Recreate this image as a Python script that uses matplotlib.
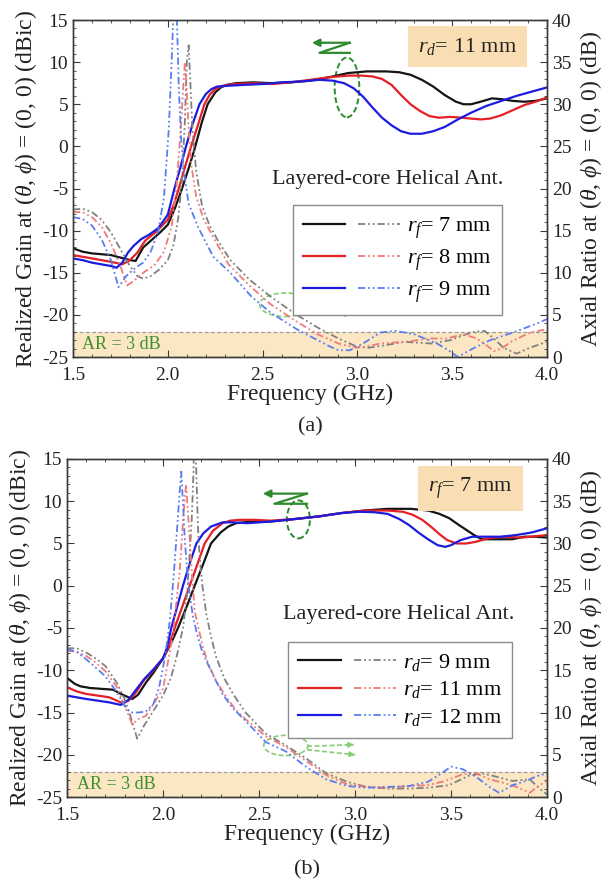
import matplotlib
matplotlib.use("Agg")
import matplotlib.pyplot as plt
from matplotlib.patches import Ellipse
from matplotlib.legend_handler import HandlerTuple
from matplotlib.lines import Line2D
from matplotlib.ticker import MultipleLocator

# ---------------------------------------------------------------- data
# (a) r_d = 11 mm, feed radius r_f varied
freq_a_gain_rf7 = [1.50, 1.55, 1.60, 1.65, 1.70, 1.75, 1.80, 1.83, 1.87, 1.92, 1.96, 2.00, 2.04, 2.075,
                   2.11, 2.14, 2.18, 2.21, 2.25, 2.28, 2.31, 2.36, 2.45, 2.55, 2.65, 2.75, 2.85, 2.95,
                   3.05, 3.15, 3.22, 3.28, 3.34, 3.40, 3.46, 3.52, 3.56, 3.60, 3.65, 3.71, 3.76, 3.82,
                   3.88, 3.94, 4.00]
gain_a_rf7 = [-12.1, -12.5, -12.7, -12.8, -12.9, -13.2, -13.5, -13.6, -12.0, -11.0, -10.2, -9.3, -7.2, -5.0,
              -2.6, -0.4, 2.9, 5.0, 6.4, 7.0, 7.3, 7.5, 7.6, 7.5, 7.6, 7.8, 8.2, 8.7,
              8.9, 8.9, 8.8, 8.5, 7.9, 7.1, 6.1, 5.3, 5.0, 5.0, 5.3, 5.7, 5.6, 5.4,
              5.3, 5.4, 5.7]

freq_a_gain_rf8 = [1.50, 1.55, 1.60, 1.65, 1.70, 1.76, 1.80, 1.84, 1.88, 1.94, 2.00, 2.03, 2.058, 2.09,
                   2.123, 2.16, 2.193, 2.22, 2.25, 2.29, 2.35, 2.45, 2.55, 2.65, 2.75, 2.85, 2.95, 3.02,
                   3.08, 3.13, 3.18, 3.23, 3.28, 3.33, 3.38, 3.43, 3.49, 3.55, 3.60, 3.65, 3.70, 3.76,
                   3.82, 3.88, 3.94, 4.00]
gain_a_rf8 = [-12.9, -13.1, -13.3, -13.5, -13.7, -14.0, -13.5, -12.6, -11.2, -10.1, -8.7, -7.0, -5.0, -2.5,
              0.0, 2.6, 5.0, 6.1, 6.8, 7.2, 7.4, 7.5, 7.4, 7.6, 7.9, 8.2, 8.4, 8.4,
              8.3, 8.0, 7.3, 6.1, 5.0, 4.2, 3.6, 3.4, 3.5, 3.4, 3.3, 3.2, 3.3, 3.7,
              4.3, 4.9, 5.3, 5.8]

freq_a_gain_rf9 = [1.50, 1.55, 1.60, 1.65, 1.70, 1.73, 1.76, 1.79, 1.82, 1.86, 1.90, 1.95, 2.00, 2.035,
                   2.065, 2.096, 2.13, 2.167, 2.20, 2.23, 2.26, 2.32, 2.40, 2.50, 2.60, 2.70, 2.80, 2.87,
                   2.93, 2.98, 3.03, 3.08, 3.13, 3.18, 3.23, 3.28, 3.34, 3.40, 3.46, 3.53, 3.60, 3.68,
                   3.76, 3.84, 3.92, 4.00]
gain_a_rf9 = [-13.3, -13.5, -13.8, -14.0, -14.2, -14.4, -13.8, -12.6, -11.8, -11.0, -10.5, -9.7, -8.1, -5.0,
              -2.6, 0.0, 2.6, 5.0, 6.2, 6.8, 7.1, 7.2, 7.3, 7.4, 7.6, 7.7, 7.9, 7.8,
              7.5, 6.9, 5.9, 4.6, 3.4, 2.5, 1.8, 1.5, 1.5, 1.8, 2.3, 3.2, 4.0, 4.8,
              5.4, 6.0, 6.5, 7.0]

freq_a_ar_rf7 = [1.50, 1.55, 1.60, 1.65, 1.70, 1.75, 1.80, 1.84, 1.87, 1.91, 1.95, 2.00, 2.03, 2.055,
                 2.075, 2.09, 2.10, 2.11, 2.12, 2.13, 2.15, 2.18, 2.22, 2.27, 2.33, 2.43, 2.54, 2.68,
                 2.79, 2.90, 3.00, 3.06, 3.12, 3.25, 3.39, 3.49, 3.56, 3.62, 3.67, 3.72, 3.77, 3.84,
                 3.91, 4.00]
ar_a_rf7 = [17.5, 17.6, 17.2, 16.3, 14.8, 12.8, 10.8, 9.6, 9.3, 9.6, 10.3, 11.5, 13.3, 16.5,
            21.0, 28.0, 35.0, 37.0, 32.0, 27.0, 22.0, 18.0, 15.6, 13.6, 11.5, 9.2, 7.2, 5.0,
            3.5, 2.2, 1.2, 1.1, 1.3, 1.8, 1.6, 2.0, 2.6, 3.0, 3.1, 2.2, 1.1, 0.4,
            1.1, 1.8]

freq_a_ar_rf8 = [1.50, 1.55, 1.60, 1.65, 1.70, 1.75, 1.785, 1.82, 1.87, 1.93, 1.98, 2.02, 2.045, 2.065,
                 2.08, 2.09, 2.10, 2.11, 2.125, 2.15, 2.19, 2.25, 2.32, 2.43, 2.54, 2.68, 2.79, 2.90,
                 3.00, 3.06, 3.12, 3.25, 3.39, 3.47, 3.56, 3.63, 3.68, 3.72, 3.76, 3.81, 3.91, 4.00]
ar_a_rf8 = [17.2, 17.2, 16.6, 15.5, 13.5, 10.8, 8.5, 9.0, 10.0, 10.9, 12.5, 15.5, 20.0, 26.0,
            31.5, 35.0, 31.5, 27.0, 22.6, 19.0, 16.3, 13.8, 11.0, 8.5, 6.3, 4.2, 2.7, 1.6,
            1.1, 1.3, 1.6, 1.8, 2.2, 2.2, 2.7, 2.2, 1.4, 0.7, 1.0, 1.8, 2.9, 3.3]

freq_a_ar_rf9 = [1.50, 1.55, 1.60, 1.65, 1.70, 1.74, 1.78, 1.83, 1.87, 1.91, 1.95, 1.98, 2.005, 2.02,
                 2.032, 2.04, 2.048, 2.058, 2.07, 2.085, 2.11, 2.16, 2.24, 2.33, 2.44, 2.54, 2.68, 2.79,
                 2.85, 2.90, 2.96, 3.03, 3.12, 3.20, 3.30, 3.42, 3.48, 3.53, 3.60, 3.70, 3.82, 3.95,
                 4.00]
ar_a_rf9 = [16.6, 16.4, 15.6, 14.0, 11.5, 8.3, 9.6, 10.6, 11.2, 12.5, 15.0, 19.0, 27.0, 35.0,
            42.0, 45.0, 40.0, 32.0, 26.0, 22.0, 18.2, 15.4, 11.9, 10.0, 7.2, 5.3, 3.3, 2.0,
            1.3, 0.8, 0.8, 1.6, 2.9, 3.1, 2.7, 1.6, 0.8, 0.0, 0.9, 2.0, 2.9, 4.0,
            4.5]

# (b) r_f = 7 mm, dielectric radius r_d varied
freq_b_gain_rd9 = [1.50, 1.54, 1.57, 1.62, 1.68, 1.74, 1.79, 1.84, 1.87, 1.91, 1.95, 2.00, 2.04, 2.078,
                   2.13, 2.165, 2.21, 2.25, 2.30, 2.34, 2.38, 2.46, 2.56, 2.69, 2.81, 2.93, 3.05, 3.17,
                   3.29, 3.38, 3.44, 3.49, 3.54, 3.58, 3.62, 3.66, 3.71, 3.76, 3.82, 3.88, 3.94, 4.00]
gain_b_rd9 = [-10.9, -11.6, -11.9, -12.1, -12.2, -12.3, -12.9, -13.4, -12.9, -11.5, -10.3, -8.6, -6.9, -5.0,
              -2.1, 0.0, 2.6, 5.0, 6.3, 7.0, 7.4, 7.6, 7.6, 7.9, 8.2, 8.6, 8.9, 9.1,
              9.1, 8.9, 8.5, 8.0, 7.2, 6.6, 6.0, 5.5, 5.5, 5.5, 5.5, 5.8, 5.8, 5.7]

freq_b_gain_rd11 = [1.50, 1.55, 1.60, 1.66, 1.72, 1.79, 1.82, 1.86, 1.90, 1.95, 2.00, 2.03, 2.061, 2.10,
                    2.139, 2.18, 2.217, 2.26, 2.31, 2.35, 2.40, 2.48, 2.56, 2.69, 2.81, 2.93, 3.05, 3.17,
                    3.25, 3.30, 3.35, 3.40, 3.44, 3.48, 3.53, 3.58, 3.63, 3.69, 3.77, 3.87, 4.00]
gain_b_rd11 = [-12.0, -12.5, -12.8, -13.0, -13.2, -13.9, -13.6, -12.6, -11.2, -10.0, -8.6, -7.2, -5.0, -2.5,
               0.0, 2.6, 5.0, 6.5, 7.4, 7.7, 7.8, 7.8, 7.7, 7.9, 8.2, 8.6, 8.9, 8.9,
               8.75, 8.4, 7.8, 6.9, 6.1, 5.4, 5.0, 5.0, 5.2, 5.6, 5.8, 5.7, 6.0]

freq_b_gain_rd12 = [1.50, 1.55, 1.60, 1.66, 1.72, 1.78, 1.82, 1.86, 1.90, 1.95, 2.00, 2.02, 2.043, 2.075,
                    2.104, 2.14, 2.174, 2.21, 2.25, 2.31, 2.36, 2.44, 2.56, 2.69, 2.81, 2.93, 3.02, 3.10,
                    3.17, 3.23, 3.28, 3.33, 3.38, 3.43, 3.47, 3.50, 3.55, 3.61, 3.68, 3.76, 3.84, 3.92,
                    4.00]
gain_b_rd12 = [-13.0, -13.2, -13.4, -13.6, -13.8, -14.1, -13.5, -12.3, -11.1, -9.9, -8.6, -7.4, -5.0, -2.4,
               0.0, 2.7, 5.0, 6.2, 7.0, 7.5, 7.5, 7.4, 7.6, 7.9, 8.2, 8.6, 8.75, 8.7,
               8.5, 7.9, 7.2, 6.3, 5.5, 4.8, 4.6, 4.8, 5.4, 5.8, 5.8, 5.8, 6.0, 6.3,
               6.8]

freq_b_ar_rd9 = [1.50, 1.55, 1.60, 1.65, 1.70, 1.76, 1.80, 1.83, 1.866, 1.90, 1.95, 2.00, 2.04, 2.07,
                 2.104, 2.125, 2.139, 2.15, 2.158, 2.166, 2.174, 2.182, 2.19, 2.205, 2.226, 2.25, 2.278, 2.32,
                 2.365, 2.43, 2.535, 2.64, 2.75, 2.85, 2.96, 3.06, 3.17, 3.28, 3.38, 3.49, 3.59, 3.66,
                 3.72, 3.82, 3.91, 3.96, 4.00]
ar_b_rd9 = [17.6, 17.6, 17.1, 16.4, 15.5, 13.5, 11.6, 9.6, 6.9, 8.4, 10.2, 12.0, 14.0, 16.5,
            20.0, 24.0, 28.7, 33.0, 38.0, 45.0, 38.0, 32.0, 28.7, 25.0, 21.6, 19.0, 16.5, 14.0,
            12.2, 10.0, 7.5, 6.1, 4.5, 2.8, 1.8, 1.2, 1.0, 1.0, 1.1, 1.4, 2.5, 2.8,
            2.5, 1.9, 2.1, 1.0, 0.3]

freq_b_ar_rd11 = [1.50, 1.55, 1.60, 1.65, 1.70, 1.76, 1.80, 1.84, 1.87, 1.91, 1.95, 2.00, 2.052, 2.087,
                  2.105, 2.12, 2.135, 2.15, 2.165, 2.19, 2.208, 2.24, 2.278, 2.33, 2.38, 2.43, 2.535, 2.64,
                  2.75, 2.85, 2.96, 3.06, 3.17, 3.28, 3.38, 3.47, 3.56, 3.63, 3.70, 3.77, 3.84, 3.91,
                  3.96, 4.00]
ar_b_rd11 = [17.3, 17.2, 16.7, 15.9, 14.9, 13.0, 10.8, 8.6, 9.2, 9.6, 11.0, 12.8, 19.2, 26.7,
             33.0, 37.0, 32.0, 26.7, 22.0, 19.5, 17.7, 15.5, 13.7, 11.8, 10.3, 9.2, 7.2, 5.9,
             4.2, 2.6, 1.5, 1.2, 1.1, 1.3, 1.4, 1.9, 2.7, 2.8, 2.1, 1.7, 1.2, 0.5,
             1.4, 1.9]

freq_b_ar_rd12 = [1.50, 1.55, 1.60, 1.65, 1.70, 1.76, 1.80, 1.83, 1.87, 1.91, 1.95, 1.98, 2.01, 2.035,
                  2.055, 2.07, 2.085, 2.095, 2.105, 2.113, 2.125, 2.139, 2.155, 2.174, 2.20, 2.226, 2.27, 2.31,
                  2.36, 2.43, 2.535, 2.64, 2.75, 2.85, 2.96, 3.06, 3.17, 3.28, 3.38, 3.45, 3.50, 3.56,
                  3.63, 3.70, 3.75, 3.82, 3.89, 3.95, 4.00]
ar_b_rd12 = [17.5, 17.2, 16.3, 15.3, 14.3, 12.4, 10.8, 10.0, 10.0, 10.1, 11.0, 13.0, 16.5, 20.8,
             26.0, 30.6, 35.5, 38.5, 34.5, 30.6, 27.0, 24.0, 21.5, 19.6, 17.5, 16.1, 14.0, 12.2,
             10.6, 9.0, 6.5, 5.4, 3.5, 2.1, 1.3, 1.1, 1.2, 1.3, 1.8, 2.8, 3.6, 3.3,
             2.4, 1.2, 0.5, 1.4, 1.9, 2.5, 2.8]

labels_a = [r"$r_f$= 7 mm", r"$r_f$= 8 mm", r"$r_f$= 9 mm"]
labels_b = [r"$r_d$= 9 mm", r"$r_d$= 11 mm", r"$r_d$= 12 mm"]
fixed_a = r"$r_d$= 11 mm"
fixed_b = r"$r_f$= 7 mm"
legend_title = "Layered-core Helical Ant."
AR_LIMIT = 3.0

# ---------------------------------------------------------------- style
plt.rcParams.update({
    "font.family": ["Liberation Serif", "DejaVu Serif"],
    "mathtext.fontset": "custom",
    "mathtext.rm": "Liberation Serif",
    "mathtext.it": "Liberation Serif:italic",
    "mathtext.bf": "Liberation Serif:bold",
    "axes.unicode_minus": False,
    "xtick.direction": "in",
    "ytick.direction": "in",
    "xtick.major.size": 5,
    "ytick.major.size": 5,
    "xtick.minor.size": 2.5,
    "ytick.minor.size": 2.5,
    "axes.linewidth": 1.0,
    "axes.edgecolor": "#3a3a3a",
})

SOLID = ["#151515", "#e41f26", "#1c1ce0"]
DASHC = ["#808080", "#f07a7a", "#5a7df0"]
DASH = (0, (4.0, 1.6, 1.0, 1.6, 1.0, 1.6))
GREEN_DARK = "#2d8a2d"
GREEN_LIGHT = "#86cc74"
BAND = "#fce7c4"
BOXC = "#f8deb2"

fig = plt.figure(figsize=(6.1, 8.85), dpi=100)


def panel(rect, gains, ars, labels, fixed, leg_anchor, title_xy, box_xy,
          zig, ell, ar_ell, ar_arrows, caption_y, caption):
    ax = fig.add_axes(rect)
    ax2 = ax.twinx()
    ax.set_xlim(1.5, 4.0)
    ax.set_ylim(-25, 15)
    ax2.set_ylim(0, 40)

    # AR <= 3 dB region
    ax.axhspan(-25, -25 + AR_LIMIT, color=BAND, lw=0, zorder=0)
    ax.axhline(-25 + AR_LIMIT, color="#9a9a9a", lw=0.9, ls=(0, (3, 2)), zorder=1)
    ax.text(1.55, -23.55, "AR = 3 dB", color="#3f8f2f", fontsize=13, va="center", ha="left")

    for (f, g), c in zip(gains, SOLID):
        ax.plot(f, g, color=c, lw=1.6, zorder=3, solid_capstyle="round")
    for (f, a), c in zip(ars, DASHC):
        ax2.plot(f, a, color=c, lw=1.3, ls=DASH, zorder=2)

    for a_ in (ax, ax2):
        a_.xaxis.set_major_locator(MultipleLocator(0.5))
        a_.xaxis.set_minor_locator(MultipleLocator(0.1))
    ax.yaxis.set_major_locator(MultipleLocator(5))
    ax.yaxis.set_minor_locator(MultipleLocator(1))
    ax2.yaxis.set_major_locator(MultipleLocator(5))
    ax2.yaxis.set_minor_locator(MultipleLocator(1))
    ax.xaxis.set_major_formatter(plt.FuncFormatter(lambda v, p: f"{v:.1f}"))
    ax.tick_params(which="both", top=True, right=False, labelsize=14, colors="#3a3a3a",
                   labelcolor="#222222")
    ax2.tick_params(which="both", labelsize=14, colors="#3a3a3a", labelcolor="#222222")
    ax.tick_params(axis="x", pad=7)

    ax.set_xlabel("Frequency (GHz)", fontsize=17, labelpad=0, color="#222222")
    ax.set_ylabel(r"Realized Gain at ($\theta$, $\phi$) = (0, 0) (dBic)", fontsize=17,
                  labelpad=2, color="#222222")
    ax2.set_ylabel(r"Axial Ratio at ($\theta$, $\phi$) = (0, 0) (dB)", fontsize=17,
                   labelpad=5, color="#222222")

    # legend: solid (gain) + dash-dot-dot (AR) handles side by side
    handles = [(Line2D([], [], color=s, lw=1.6), Line2D([], [], color=d, lw=1.3, ls=DASH))
               for s, d in zip(SOLID, DASHC)]
    leg = ax2.legend(handles, labels, handler_map={tuple: HandlerTuple(ndivide=None, pad=0.6)},
                     loc="upper left", bbox_to_anchor=leg_anchor, fontsize=16,
                     handlelength=4.4, handletextpad=0.3, labelspacing=0.3, borderpad=0.45,
                     frameon=True, fancybox=False, framealpha=1)
    leg.get_frame().set_edgecolor("#8c8c8c")
    leg.get_frame().set_linewidth(1.0)
    ax.text(title_xy[0], title_xy[1], legend_title, fontsize=16, ha="center", va="center",
            color="#222222")

    ax.text(box_xy[0], box_xy[1], fixed, fontsize=16, ha="center", va="center", color="#222222",
            bbox=dict(boxstyle="square,pad=0.45", fc=BOXC, ec="none"))

    # gain marker: Z with arrow to the left axis + dashed ellipse
    (x0, x1, x2, y_top, y_bot) = zig
    ax.annotate("", xy=(x0, y_top), xytext=(x2, y_top),
                arrowprops=dict(arrowstyle="-|>", color=GREEN_DARK, lw=1.6, mutation_scale=11,
                                shrinkA=0, shrinkB=0))
    ax.plot([x2, x1, x2], [y_top, y_bot, y_bot], color=GREEN_DARK, lw=1.6)
    ax.add_patch(Ellipse(ell[:2], ell[2], ell[3], fill=False, ec=GREEN_DARK, lw=1.4,
                         ls=(0, (3, 1.5))))

    # AR marker: dashed ellipse + two dashed arrows to the right axis
    ax2.add_patch(Ellipse(ar_ell[:2], ar_ell[2], ar_ell[3], fill=False, ec=GREEN_LIGHT, lw=1.2,
                          ls=(0, (3, 1.5))))
    for (sx, sy, ex, ey) in ar_arrows:
        ax2.plot([sx, ex], [sy, ey], color=GREEN_LIGHT, lw=1.2, ls=(0, (3, 1.5)))
        ax2.annotate("", xy=(ex, ey), xytext=(ex - 0.03, ey + (sy - ey) * 0.03 / (ex - sx)),
                     arrowprops=dict(arrowstyle="-|>", color=GREEN_LIGHT, lw=1.0,
                                     mutation_scale=8, shrinkA=0, shrinkB=0))

    fig.text(rect[0] + rect[2] / 2, caption_y, caption, fontsize=16, ha="center", va="center",
             color="#222222")
    return ax


panel([0.1197, 0.5966, 0.777, 0.3808],
      [(freq_a_gain_rf7, gain_a_rf7), (freq_a_gain_rf8, gain_a_rf8), (freq_a_gain_rf9, gain_a_rf9)],
      [(freq_a_ar_rf7, ar_a_rf7), (freq_a_ar_rf8, ar_a_rf8), (freq_a_ar_rf9, ar_a_rf9)],
      labels_a, fixed_a,
      leg_anchor=(0.44, 0.483), title_xy=(3.16, -3.9), box_xy=(3.58, 11.8),
      zig=(2.76, 2.80, 2.96, 12.3, 11.1), ell=(2.945, 7.0, 0.13, 7.1),
      ar_ell=(2.62, 6.2, 0.27, 2.8),
      ar_arrows=[(2.74, 5.9, 2.956, 6.2), (2.74, 5.7, 2.965, 5.0)],
      caption_y=0.5175, caption="(a)")

panel([0.1098, 0.0994, 0.787, 0.382],
      [(freq_b_gain_rd9, gain_b_rd9), (freq_b_gain_rd11, gain_b_rd11), (freq_b_gain_rd12, gain_b_rd12)],
      [(freq_b_ar_rd9, ar_b_rd9), (freq_b_ar_rd11, ar_b_rd11), (freq_b_ar_rd12, ar_b_rd12)],
      labels_b, fixed_b,
      leg_anchor=(0.438, 0.4925), title_xy=(3.23, -3.4), box_xy=(3.6, 11.5),
      zig=(2.52, 2.58, 2.75, 10.9, 9.7), ell=(2.705, 7.85, 0.12, 4.5),
      ar_ell=(2.64, 6.1, 0.23, 2.4),
      ar_arrows=[(2.75, 6.0, 2.994, 6.2), (2.75, 5.6, 3.0, 5.0)],
      caption_y=0.017, caption="(b)")

fig.savefig("out.png", dpi=100)
